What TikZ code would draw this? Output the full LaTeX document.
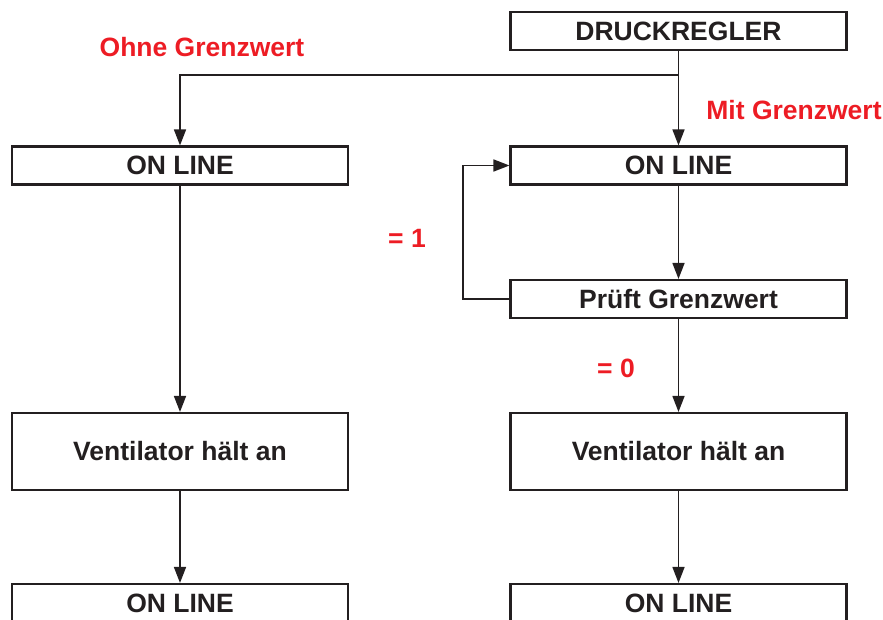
\documentclass[tikz,border=0pt]{standalone}
\usepackage{fontspec}
\setmainfont{Liberation Sans}
\usetikzlibrary{arrows.meta}
\definecolor{ink}{HTML}{231F20}
\definecolor{redlab}{HTML}{ED1C24}
\tikzset{
  box/.style={draw=ink, line width=2.1pt, fill=white, minimum width=336pt, inner sep=0pt,
    font=\fontsize{26.5}{30}\selectfont\bfseries, text=ink},
  lab/.style={font=\fontsize{26.5}{30}\selectfont\bfseries, text=redlab, inner sep=0pt},
  conn/.style={draw=ink, line width=1.6pt, -{Triangle[length=16pt,width=12pt]}},
  plain/.style={draw=ink, line width=1.6pt}
}
\begin{document}
\begin{tikzpicture}[x=1pt,y=-1pt]
\path[use as bounding box] (0,0) rectangle (883,620);
\clip (0,0) rectangle (883,620);
\node[box, minimum height=38pt] (dr) at (678.5,31) {DRUCKREGLER};
\node[box, minimum height=38pt] (ol1) at (180,165.5) {ON LINE};
\node[box, minimum height=38pt] (or1) at (678.5,165.5) {ON LINE};
\node[box, minimum height=38pt] (pg) at (678.5,299) {Prüft Grenzwert};
\node[box, minimum height=77pt] (vl) at (180,451.5) {Ventilator hält an};
\node[box, minimum height=77pt] (vr) at (678.5,451.5) {Ventilator hält an};
\node[box, minimum height=38pt] (ol2) at (180,603) {ON LINE};
\node[box, minimum height=38pt] (or2) at (678.5,603) {ON LINE};
\coordinate (j) at (678.5,75);
\coordinate (fb) at (463,299);
\node[lab] (l1) at (202,47) {Ohne Grenzwert};
\node[lab] (l2) at (794,110) {Mit Grenzwert};
\node[lab] (l3) at (407,238) {= 1};
\node[lab] (l4) at (616,368) {= 0};
\draw[plain] (dr.south) -- (j);
\draw[conn] (j) -- (or1.north);
\draw[conn] (j) -| (ol1.north);
\draw[conn] (or1.south) -- (pg.north);
\draw[conn] (pg.south) -- (vr.north);
\draw[conn] (vr.south) -- (or2.north);
\draw[conn] (ol1.south) -- (vl.north);
\draw[conn] (vl.south) -- (ol2.north);
\draw[conn] (pg.west) -- (fb) |- (or1.west);
\end{tikzpicture}
\end{document}
